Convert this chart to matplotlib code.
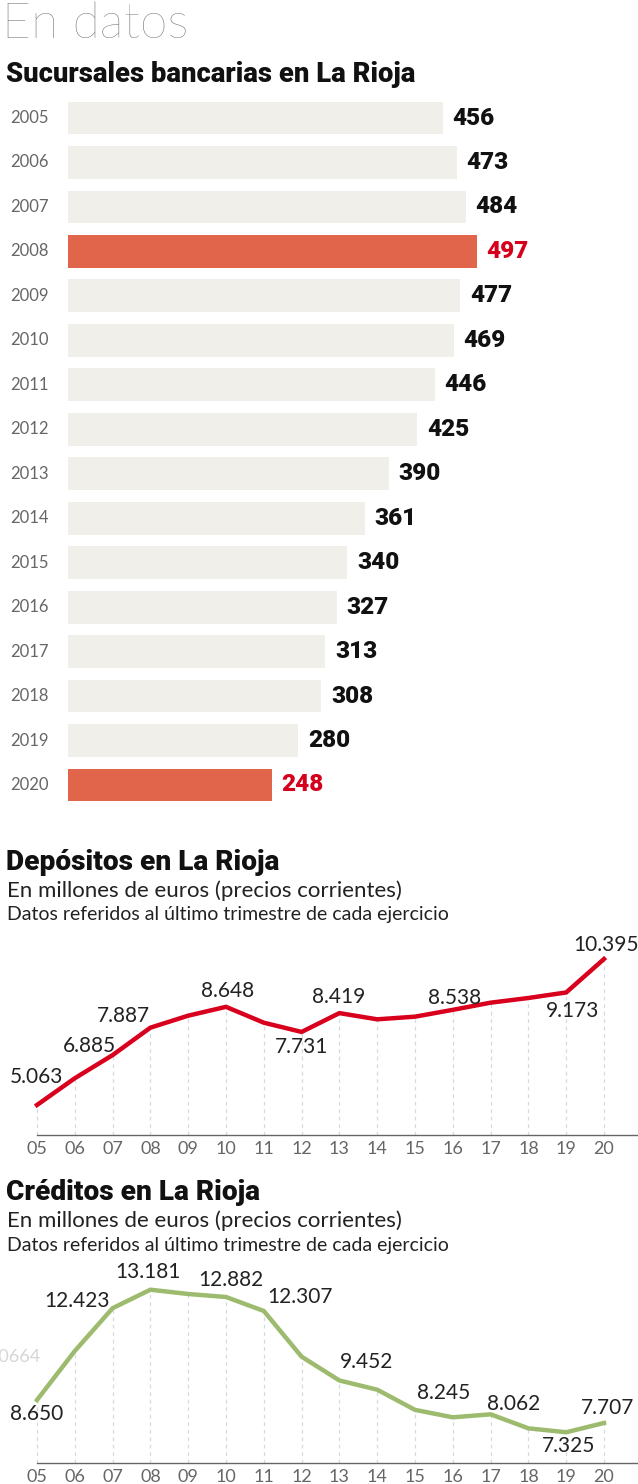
import matplotlib
matplotlib.use("Agg")
import matplotlib.pyplot as plt

# ---------------- data ----------------
years_bar = ["2005", "2006", "2007", "2008", "2009", "2010", "2011", "2012",
             "2013", "2014", "2015", "2016", "2017", "2018", "2019", "2020"]
sucursales = [456, 473, 484, 497, 477, 469, 446, 425, 390, 361, 340, 327, 313, 308, 280, 248]
highlight_years = ["2008", "2020"]

line_years = [5, 6, 7, 8, 9, 10, 11, 12, 13, 14, 15, 16, 17, 18, 19, 20]
year_ticks = ["05", "06", "07", "08", "09", "10", "11", "12", "13", "14", "15",
              "16", "17", "18", "19", "20"]
depositos = [5063, 6040, 6885, 7887, 8325, 8648, 8069, 7731, 8419, 8192, 8289,
             8538, 8800, 8971, 9173, 10395]
creditos = [8650, 10664, 12423, 13181, 13005, 12882, 12307, 10430, 9452, 9074,
            8245, 7938, 8062, 7486, 7325, 7707]

# which points are labelled, with label offsets in pixels (dx, dy up)
dep_labels = {5: (-1, 28), 7: (-23, 9), 8: (-27, 12), 10: (2, 16), 12: (0, -15),
              13: (-1, 16), 16: (2, 12), 19: (6, -19), 20: (2, 14)}
cre_labels = {5: (0, -14), 7: (-36, 7), 8: (-2, 18), 10: (5, 17), 11: (36, 14),
              13: (27, 18), 15: (29, 17), 17: (23, 10), 19: (2, -14), 20: (4, 15)}

W, H = 638, 1484
FONT = "Lato"
HEAVY = "Roboto"
BAR_GREY = "#F0EFEA"
BAR_HL = "#E0654A"
RED_TXT = "#D4001C"
RED_LINE = "#D9001E"
GREEN_LINE = "#9DBB6E"
AXIS_TXT = "#666666"


def rect(left, top, width, height):
    return [left / W, 1 - (top + height) / H, width / W, height / H]


def fmt(v):
    return f"{v:,}".replace(",", ".")


fig = plt.figure(figsize=(W / 100, H / 100), dpi=100)
fig.patch.set_facecolor("white")

# ---------------- headings ----------------
fig.text(2 / W, 1 - 24 / H, "En datos", family=FONT, weight=100, fontsize=36,
         color="#707070", va="center", ha="left")
fig.text(6 / W, 1 - 74 / H, "Sucursales bancarias en La Rioja", family=HEAVY,
         weight=900, fontsize=19.7, color="#111111", va="center", ha="left")

# ---------------- bar chart ----------------
px_per_unit = 0.822
axb = fig.add_axes(rect(68, 95.8, 570, 711.4))
n = len(years_bar)
colors = [BAR_HL if y in highlight_years else BAR_GREY for y in years_bar]
axb.barh(range(n), sucursales, height=0.74, color=colors, edgecolor="none")
axb.set_xlim(0, 570 / px_per_unit)
axb.set_ylim(n - 0.5, -0.5)
axb.axis("off")
for i, (y, v) in enumerate(zip(years_bar, sucursales)):
    c = RED_TXT if y in highlight_years else "#111111"
    axb.annotate(str(v), (v, i), xytext=(7, 0), textcoords="offset points",
                 ha="left", va="center", family=HEAVY, weight=900,
                 fontsize=17.5, color=c)
    axb.annotate(y, (0, i), xytext=(-14, 0), textcoords="offset points",
                 ha="right", va="center", family=FONT, weight="normal",
                 fontsize=12, color=AXIS_TXT)


# ---------------- line charts ----------------
def line_chart(top_title, title, ax_rect, ylim, values, color, labels):
    fig.text(6 / W, 1 - top_title / H, title, family=HEAVY, weight=900,
             fontsize=20.2, color="#111111", va="center", ha="left")
    fig.text(7 / W, 1 - (top_title + 29) / H, "En millones de euros (precios corrientes)",
             family=FONT, fontsize=16, color="#222222", va="center", ha="left")
    fig.text(7 / W, 1 - (top_title + 53) / H,
             "Datos referidos al último trimestre de cada ejercicio",
             family=FONT, fontsize=14, color="#222222", va="center", ha="left")
    ax = fig.add_axes(rect(*ax_rect))
    xmax = 20 + 36 / 37.8
    ax.set_xlim(5 - 7 / 37.8, xmax)
    ax.set_ylim(*ylim)
    ax.vlines(line_years, ylim[0], values, colors="#d3dbe1", linewidth=0.9,
              linestyles=(0, (3, 3)), zorder=1)
    ax.plot(line_years, values, color=color, linewidth=3.2, solid_joinstyle="miter",
            zorder=3, clip_on=False)
    for yr, (dx, dy) in labels.items():
        i = line_years.index(yr)
        ax.annotate(fmt(values[i]), (yr, values[i]), xytext=(dx * 0.72, dy * 0.72),
                    textcoords="offset points", ha="center", va="center",
                    family=FONT, fontsize=15, color="#222222", zorder=4)
    for s in ["top", "right", "left"]:
        ax.spines[s].set_visible(False)
    ax.spines["bottom"].set_color("#666666")
    ax.spines["bottom"].set_linewidth(1.0)
    ax.spines["bottom"].set_bounds(5, xmax)
    ax.set_yticks([])
    ax.set_xticks(line_years)
    ax.set_xticklabels(year_ticks)
    ax.tick_params(axis="x", length=0, pad=4, labelsize=13, labelcolor=AXIS_TXT)
    for t in ax.get_xticklabels():
        t.set_family(FONT)
        t.set_weight("normal")
    ax.patch.set_alpha(0)
    return ax


line_chart(862, "Depósitos en La Rioja", (30, 940, 610, 195), (3967, 11089),
           depositos, RED_LINE, dep_labels)
line_chart(1192, "Créditos en La Rioja", (30, 1270, 610, 193), (6062, 13991),
           creditos, GREEN_LINE, cre_labels)

# faint ghost label at the left edge
fig.text(41 / W, 1 - 1357 / H, fmt(creditos[1]).replace(".", ""), family=FONT,
         weight="normal", fontsize=13, color="#d6d6d6", va="center", ha="right")

fig.savefig("out.png", dpi=100, facecolor="white")
